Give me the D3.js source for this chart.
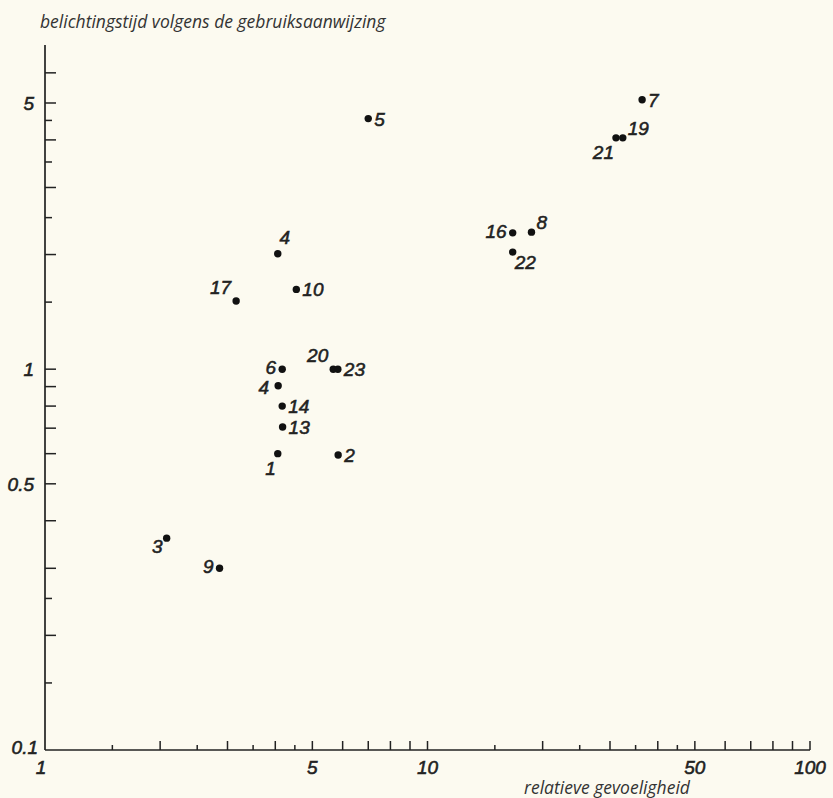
<!DOCTYPE html>
<html>
<head>
<meta charset="utf-8">
<script src="https://cdn.jsdelivr.net/npm/d3@7"></script>
<style>
  body { margin: 0; background: #fcfaf0; }
  svg { display: block; }
  .num { font-family: "Liberation Sans Narrow", "Liberation Sans", Arial, sans-serif; font-style: italic; fill: #222; stroke: #222; stroke-width: 0.55px; }
  .title { font-family: "Open Sans", "Noto Sans", sans-serif; font-style: italic; fill: #333; }
</style>
</head>
<body>
<div id="graph"></div>
<script>
// data
var sensitivity = [7.0, 36.4, 32.4, 31.1, 18.7, 16.7, 16.7, 4.06, 3.16, 4.54, 4.17, 5.67, 5.83, 4.07, 4.17, 4.18, 4.06, 5.84, 2.08, 2.86];
var exposure    = [4.55, 5.1, 4.05, 4.05, 2.29, 2.28, 2.03, 2.01, 1.51, 1.62, 1.0, 1.0, 1.0, 0.905, 0.80, 0.705, 0.60, 0.595, 0.36, 0.30];
var pointLabels = ["5", "7", "19", "21", "8", "16", "22", "4", "17", "10", "6", "20", "23", "4", "14", "13", "1", "2", "3", "9"];
var labelSide   = ["r", "r", "ar", "bl", "ar", "l", "br", "a", "al", "r", "l", "al", "r", "ll", "r", "r", "bl", "r", "lb", "l"];

var xMajor = [2, 3, 4, 5, 6, 7, 8, 9, 10, 20, 30, 40, 50, 60, 70, 80, 90, 100];
var xMinor = [1.5, 2.5, 3.5, 4.5, 15, 25, 35, 45];
var xLabels = [1, 5, 10, 50, 100];
var yMajor = [0.2, 0.3, 0.4, 0.5, 0.6, 0.7, 0.8, 0.9, 1, 2, 3, 4, 5, 6];
var yMinor = [0.15, 0.25, 1.5, 2.5, 3.5, 4.5];
var yLabels = [0.1, 0.5, 1, 5];

var width = 833, height = 798;

var svg = d3.select("#graph")
  .append("svg")
    .attr("width", width)
    .attr("height", height);

var x = d3.scaleLog()
  .domain([1, 100])
  .range([45, 810]);

var y = d3.scaleLog()
  .domain([0.1, 7.1])
  .range([750, 45]);

var fmt = function(d) { return String(d); };

// x axis: ticks go up from the base line
var xAxis = svg.append("g")
  .attr("transform", "translate(0," + y(0.1) + ")");
xAxis.append("line")
  .attr("x1", x(1)).attr("x2", x(100))
  .attr("stroke", "#222").attr("stroke-width", 1.7);
xAxis.selectAll(".xt")
  .data(xMajor.concat(xMinor))
  .enter().append("line")
    .attr("x1", function(d) { return x(d); })
    .attr("x2", function(d) { return x(d); })
    .attr("y1", 0)
    .attr("y2", function(d) { return xMinor.indexOf(d) >= 0 ? -5 : -9; })
    .attr("stroke", "#222").attr("stroke-width", 1.5);
xAxis.selectAll(".xl")
  .data(xLabels)
  .enter().append("text")
    .attr("class", "num")
    .attr("x", function(d) { return x(d) + (d == 1 ? -4 : 0); })
    .attr("y", 24)
    .attr("text-anchor", "middle")
    .style("font-size", "19px")
    .text(fmt);

// y axis: ticks go right from the axis line
var yAxis = svg.append("g")
  .attr("transform", "translate(" + x(1) + ",0)");
yAxis.append("line")
  .attr("y1", y(0.1)).attr("y2", y(7.1))
  .attr("stroke", "#222").attr("stroke-width", 1.7);
yAxis.selectAll(".yl")
  .data(yLabels)
  .enter().append("text")
    .attr("class", "num")
    .attr("x", function(d) { return d == 0.1 ? -7 : -11; })
    .attr("y", function(d) { return y(d) + (d == 0.1 ? 4 : 7); })
    .attr("text-anchor", "end")
    .style("font-size", "19px")
    .text(fmt);
yAxis.selectAll(".yt")
  .data(yMajor.concat(yMinor))
  .enter().append("line")
    .attr("y1", function(d) { return y(d); })
    .attr("y2", function(d) { return y(d); })
    .attr("x1", 0)
    .attr("x2", function(d) { return yMinor.indexOf(d) >= 0 ? 7 : 11; })
    .attr("stroke", "#222").attr("stroke-width", 1.5);

// axis titles
svg.append("text")
  .attr("class", "title")
  .attr("x", 40)
  .attr("y", 28)
  .style("font-size", "17.5px")
  .text("belichtingstijd volgens de gebruiksaanwijzing");

svg.append("text")
  .attr("class", "title")
  .attr("x", 607)
  .attr("y", 794)
  .attr("text-anchor", "middle")
  .style("font-size", "17.5px")
  .text("relatieve gevoeligheid");

// points
var data = sensitivity.map(function(s, i) {
  return { x: s, y: exposure[i], label: pointLabels[i], side: labelSide[i] };
});

svg.append("g")
  .selectAll("circle")
  .data(data)
  .enter().append("circle")
    .attr("cx", function(d) { return x(d.x); })
    .attr("cy", function(d) { return y(d.y); })
    .attr("r", 3.7)
    .attr("fill", "#111");

// label offsets per side code
var offs = {
  r:  { dx: 6,  dy: 7,   a: "start" },
  l:  { dx: -6, dy: 5,   a: "end" },
  ll: { dx: -9, dy: 8,   a: "end" },
  a:  { dx: 7,  dy: -10, a: "middle" },
  ar: { dx: 5,  dy: -3,  a: "start" },
  al: { dx: -5, dy: -7,  a: "end" },
  bl: { dx: -2, dy: 21,  a: "end" },
  br: { dx: 2,  dy: 17,  a: "start" },
  lb: { dx: -4, dy: 15,  a: "end" }
};

svg.append("g")
  .selectAll("text")
  .data(data)
  .enter().append("text")
    .attr("class", "num")
    .attr("x", function(d) { return x(d.x) + offs[d.side].dx; })
    .attr("y", function(d) { return y(d.y) + offs[d.side].dy; })
    .attr("text-anchor", function(d) { return offs[d.side].a; })
    .style("font-size", "19px")
    .text(function(d) { return d.label; });
</script>
</body>
</html>
